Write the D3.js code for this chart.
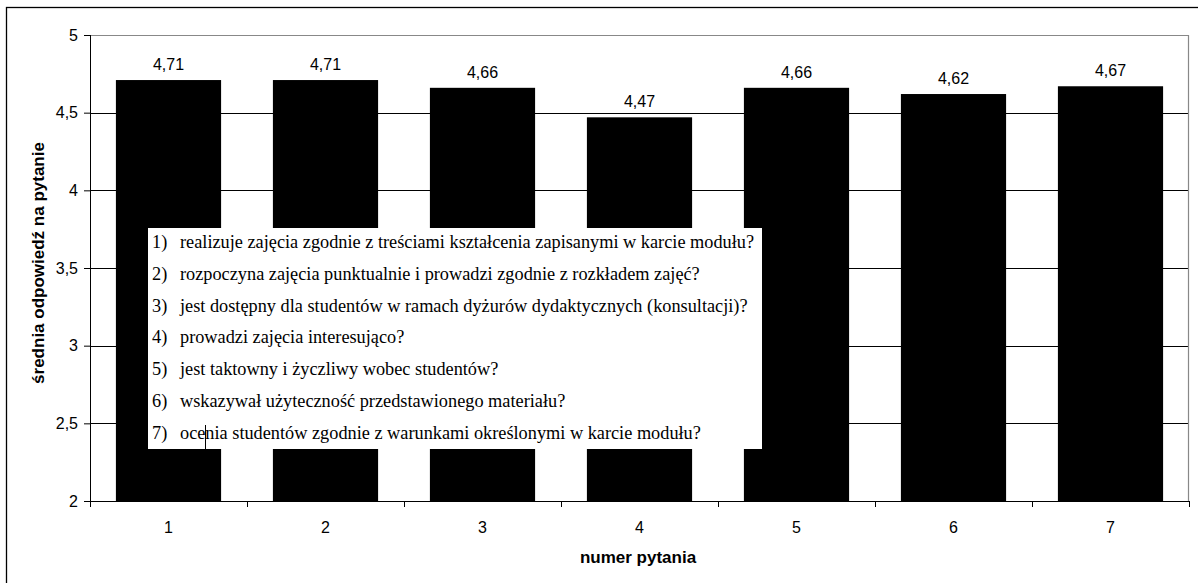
<!DOCTYPE html>
<html>
<head>
<meta charset="utf-8">
<script src="https://cdn.jsdelivr.net/npm/d3@7"></script>
<style>
  body { margin: 0; background: #fff; }
  svg { display: block; }
</style>
</head>
<body>
<svg id="chart"></svg>
<script>
// question numbers and average answers
const questions = ["1", "2", "3", "4", "5", "6", "7"]
const averages = [4.71, 4.71, 4.66, 4.47, 4.66, 4.62, 4.67]
const yTicks = [2, 2.5, 3, 3.5, 4, 4.5, 5]
const legendLines = [
  "realizuje zajęcia zgodnie z treściami kształcenia zapisanymi w karcie modułu?",
  "rozpoczyna zajęcia punktualnie i prowadzi zgodnie z rozkładem zajęć?",
  "jest dostępny dla studentów w ramach dyżurów dydaktycznych (konsultacji)?",
  "prowadzi zajęcia interesująco?",
  "jest taktowny i życzliwy wobec studentów?",
  "wskazywał użyteczność przedstawionego materiału?",
  "ocenia studentów zgodnie z warunkami określonymi w karcie modułu?",
]

const W = 1198, H = 583
const m = { left: 90, top: 35, right: 1189, bottom: 501 }
const sans = "Liberation Sans, Arial, sans-serif"

const svg = d3.select("#chart").attr("width", W).attr("height", H)

// outer frame (runs off the right and bottom edge)
svg.append("rect")
  .attr("x", 6.5).attr("y", 7.5)
  .attr("width", 1210).attr("height", 600)
  .attr("fill", "none").attr("stroke", "#000").attr("stroke-width", 1.3)

const x = d3.scaleBand().domain(questions).range([m.left, m.right]).paddingInner(0.33).paddingOuter(0.165)
const xb = d3.scaleBand().domain(questions).range([m.left, m.right])
const y = d3.scaleLinear().domain([2, 5]).range([m.bottom, m.top])

// grid lines
svg.append("g")
  .selectAll("line")
  .data(yTicks.filter(t => t > 2 && t < 5))
  .join("line")
  .attr("x1", m.left).attr("x2", m.right)
  .attr("y1", d => Math.round(y(d)) + 0.5).attr("y2", d => Math.round(y(d)) + 0.5)
  .attr("stroke", "#000").attr("stroke-width", 1)

// plot border (top and right gray)
svg.append("path")
  .attr("d", `M${m.left},${m.top + 0.5}H${m.right - 0.5}V${m.bottom}`)
  .attr("fill", "none").attr("stroke", "#888").attr("stroke-width", 1.2)

// bars
svg.append("g")
  .selectAll("rect")
  .data(averages)
  .join("rect")
  .attr("x", (d, i) => x(questions[i]))
  .attr("width", x.bandwidth())
  .attr("y", d => y(d))
  .attr("height", d => y(2) - y(d))
  .attr("fill", "#000")

// value labels
svg.append("g")
  .selectAll("text")
  .data(averages)
  .join("text")
  .attr("x", (d, i) => x(questions[i]) + x.bandwidth() / 2)
  .attr("y", d => y(d) - 10)
  .attr("text-anchor", "middle")
  .attr("font-family", sans)
  .attr("font-size", 16)
  .text(d => d.toFixed(2).replace(".", ","))

// y axis
const yAxis = svg.append("g")
  .attr("transform", `translate(${m.left},0)`)
  .call(d3.axisLeft(y).tickValues(yTicks).tickSize(6).tickPadding(6)
    .tickFormat(d => String(d).replace(".", ",")))
yAxis.select(".domain").attr("stroke", "#000").attr("d", `M0.5,${m.top}V${m.bottom}`)
yAxis.selectAll("text").attr("font-family", sans).attr("font-size", 16).attr("fill", "#000")

// x axis: ticks between categories
const xAxis = svg.append("g").attr("transform", `translate(0,${m.bottom})`)
xAxis.append("line")
  .attr("x1", m.left).attr("x2", m.right)
  .attr("y1", 0.5).attr("y2", 0.5).attr("stroke", "#000")
xAxis.selectAll("line.tk")
  .data(questions.map(q => xb(q)).concat([m.right]))
  .join("line").attr("class", "tk")
  .attr("x1", d => Math.round(d) + 0.5).attr("x2", d => Math.round(d) + 0.5)
  .attr("y1", 0).attr("y2", 6).attr("stroke", "#000")
xAxis.selectAll("text")
  .data(questions)
  .join("text")
  .attr("x", d => xb(d) + xb.bandwidth() / 2)
  .attr("y", 32)
  .attr("text-anchor", "middle")
  .attr("font-family", sans)
  .attr("font-size", 16)
  .text(d => d)

// axis titles
svg.append("text")
  .attr("x", 638).attr("y", 563)
  .attr("text-anchor", "middle")
  .attr("font-family", sans)
  .attr("font-size", 17).attr("font-weight", "bold")
  .text("numer pytania")
svg.append("text")
  .attr("transform", `translate(44,263) rotate(-90)`)
  .attr("text-anchor", "middle")
  .attr("font-family", sans)
  .attr("font-size", 17).attr("font-weight", "bold")
  .text("średnia odpowiedź na pytanie")

// legend box with question texts
const box = svg.append("g")
box.append("rect")
  .attr("x", 148).attr("y", 228).attr("width", 614).attr("height", 221)
  .attr("fill", "#fff")
const rows = box.selectAll("g.row")
  .data(legendLines)
  .join("g").attr("class", "row")
  .attr("transform", (d, i) => `translate(0,${248 + i * 31.8})`)
  .attr("font-family", "Liberation Serif, Times New Roman, serif")
  .attr("font-size", 18.3)
  .attr("fill", "#000")
rows.append("text").attr("x", 152).text((d, i) => (i + 1) + ")")
rows.append("text").attr("x", 180).text(d => d)

// text cursor artefact in the last line
box.append("line")
  .attr("x1", 205.5).attr("x2", 205.5).attr("y1", 425).attr("y2", 452)
  .attr("stroke", "#000").attr("stroke-width", 1)
</script>
</body>
</html>
